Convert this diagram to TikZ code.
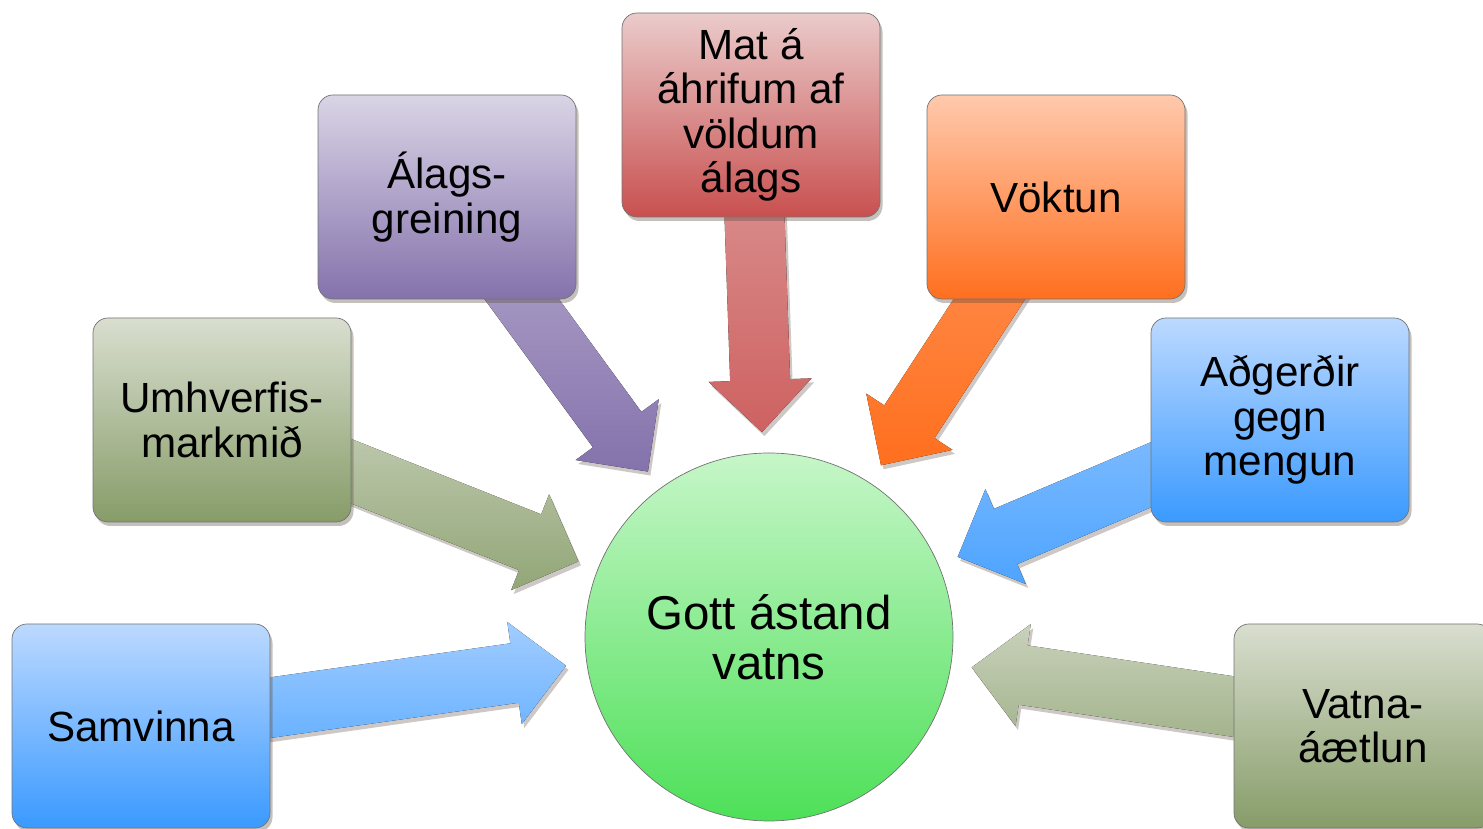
\documentclass[tikz,border=0pt]{standalone}
\usepackage{fontspec}
\setmainfont{Liberation Sans}
\usetikzlibrary{calc,shadows,backgrounds}
\definecolor{wblueA}{HTML}{BCD9FF}
\definecolor{wblueB}{HTML}{3A9AFF}
\definecolor{wolivA}{HTML}{D9DECF}
\definecolor{wolivB}{HTML}{869C68}
\definecolor{wpurpA}{HTML}{DAD4E6}
\definecolor{wpurpB}{HTML}{8472AC}
\definecolor{wredA}{HTML}{EBCBCB}
\definecolor{wredB}{HTML}{C8504F}
\definecolor{woranA}{HTML}{FFC9AD}
\definecolor{woranB}{HTML}{FF6F1E}
\definecolor{wgreenA}{HTML}{C6F6C8}
\definecolor{wgreenB}{HTML}{4DE058}
\definecolor{wshadow}{HTML}{5A4A40}

\tikzset{
  goalbox/.style={draw=black!55, thin, rounded corners=0.3cm,
    minimum width=5.16cm, minimum height=4.08cm, align=center,
    font={\fontsize{24}{25.2}\selectfont},
    drop shadow={shadow xshift=0.05cm, shadow yshift=-0.08cm,
      fill=wshadow, opacity=0.35}},
  goalcircle/.style={circle, draw=black!55, thin, minimum size=7.36cm,
    align=center, font={\fontsize{27}{28.4}\selectfont},
    top color=wgreenA, bottom color=wgreenB},
  arrowshade/.style={drop shadow={shadow xshift=0.05cm, shadow yshift=-0.08cm,
      fill=wshadow, opacity=0.3}}
}

% block arrow from #1 to the tip #2, shaded #3 -> #4
\newcommand{\blockarrow}[4]{%
  \coordinate (hb) at ($(#2)!1.04cm!(#1)$);
  \fill[top color=#3, bottom color=#4, arrowshade]
    ($(#1)!0.6cm!90:(#2)$) -- ($(hb)!0.6cm!90:(#2)$) --
    ($(hb)!1.03cm!90:(#2)$) -- (#2) -- ($(hb)!1.03cm!-90:(#2)$) --
    ($(hb)!0.6cm!-90:(#2)$) -- ($(#1)!0.6cm!-90:(#2)$) -- cycle;
}

\begin{document}
\begin{tikzpicture}

  \useasboundingbox (0,0) rectangle (29.66,16.58);

  % ---- Centre goal ---------------------------------------------
  \node[goalcircle] (gott) at (15.38,3.84) {Gott ástand\\vatns};

  % ---- Surrounding boxes ---------------------------------------
  \node[goalbox, top color=wblueA, bottom color=wblueB] (samv) at (2.82,2.06) {Samvinna};
  \node[goalbox, top color=wolivA, bottom color=wolivB] (umhv) at (4.44,8.18) {Umhverfis-\\markmið};
  \node[goalbox, top color=wpurpA, bottom color=wpurpB] (alag) at (8.94,12.64) {Álags-\\greining};
  \node[goalbox, top color=wredA, bottom color=wredB] (mat) at (15.02,14.28) {Mat á\\áhrifum af\\völdum\\álags};
  \node[goalbox, top color=woranA, bottom color=woranB] (vokt) at (21.12,12.64) {Vöktun};
  \node[goalbox, top color=wblueA, bottom color=wblueB] (adg) at (25.60,8.18) {Aðgerðir\\gegn\\mengun};
  \node[goalbox, top color=wolivA, bottom color=wolivB] (vatna) at (27.26,2.06) {Vatna-\\áætlun};

  % ---- Arrow tips near the circle ------------------------------
  \foreach \b in {samv,umhv,alag,mat,vokt,adg,vatna}
    \coordinate (\b-tip) at ($(gott.center)!4.1cm!(\b.center)$);

  % ---- Block arrows (behind the boxes) -------------------------
  \begin{pgfonlayer}{background}
    \blockarrow{samv.center}{samv-tip}{wblueA!80!wblueB}{wblueB!80!white}
    \blockarrow{umhv.center}{umhv-tip}{wolivA!80!wolivB}{wolivB!90!white}
    \blockarrow{alag.center}{alag-tip}{wpurpA!60!wpurpB}{wpurpB}
    \blockarrow{mat.center}{mat-tip}{wredA!60!wredB}{wredB!90!white}
    \blockarrow{vokt.center}{vokt-tip}{woranA!40!woranB}{woranB}
    \blockarrow{adg.center}{adg-tip}{wblueA!60!wblueB}{wblueB!90!white}
    \blockarrow{vatna.center}{vatna-tip}{wolivA!80!wolivB}{wolivB!80!white}
  \end{pgfonlayer}

\end{tikzpicture}
\end{document}
